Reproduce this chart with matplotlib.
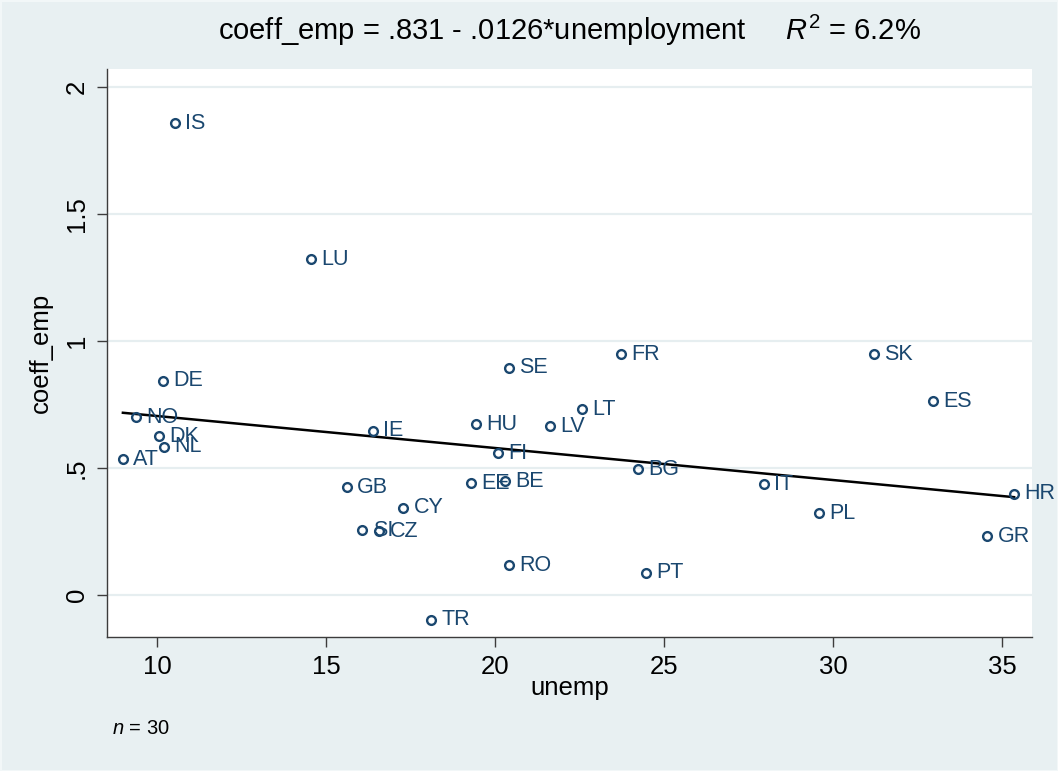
import matplotlib
matplotlib.use("Agg")
import matplotlib.pyplot as plt

plt.rcParams["font.family"] = ["Liberation Sans", "DejaVu Sans"]
plt.rcParams["mathtext.fontset"] = "custom"
plt.rcParams["mathtext.rm"] = "Liberation Sans"
plt.rcParams["mathtext.it"] = "Liberation Sans:italic"

# Country codes, unemployment and employment coefficient
countries = ["IS", "LU", "DE", "NO", "DK", "NL", "AT", "IE", "GB", "CY",
             "SI", "CZ", "TR", "EE", "BE", "HU", "FI", "LV", "LT", "SE",
             "FR", "RO", "PT", "BG", "IT", "PL", "SK", "ES", "GR", "HR"]
unemp = [10.53, 14.56, 10.18, 9.38, 10.06, 10.21, 8.99, 16.39, 15.62, 17.28,
         16.07, 16.57, 18.11, 19.29, 20.30, 19.44, 20.09, 21.63, 22.57, 20.41,
         23.73, 20.41, 24.47, 24.23, 27.96, 29.59, 31.21, 32.96, 34.56, 35.36]
coeff_emp = [1.858, 1.323, 0.843, 0.701, 0.626, 0.583, 0.535, 0.646, 0.425, 0.343,
             0.256, 0.252, -0.098, 0.441, 0.449, 0.673, 0.559, 0.665, 0.732, 0.894,
             0.949, 0.118, 0.087, 0.496, 0.437, 0.323, 0.949, 0.764, 0.232, 0.398]

# Fitted line coefficients
intercept = 0.831
slope = -0.0126
r2_pct = 6.2

xticks = [10, 15, 20, 25, 30, 35]
yticks = [0, 0.5, 1, 1.5, 2]
ytick_labels = ["0", ".5", "1", "1.5", "2"]

bg = "#E8F0F2"
grid_col = "#E6EEF0"
navy = "#1A476F"
axis_col = "#3C3C3C"

W, H = 1058, 771
fig = plt.figure(figsize=(W / 100, H / 100), dpi=100, facecolor=bg)
fig.patch.set_edgecolor("#F2F7F8")
fig.patch.set_linewidth(2)
ax = fig.add_axes([107 / W, (H - 637) / H, (1032 - 107) / W, (637 - 69) / H])
ax.set_facecolor("white")

ax.set_xlim(8.52, 35.89)
ax.set_ylim(-0.165, 2.071)

# horizontal grid
for y in yticks:
    ax.axhline(y, color=grid_col, lw=1.6, zorder=0)

# fitted line over observed range
x0, x1 = min(unemp), max(unemp)
ax.plot([x0, x1], [intercept + slope * x0, intercept + slope * x1],
        color="black", lw=1.8, zorder=2)

ax.plot(unemp, coeff_emp, linestyle="none", marker="o", markersize=6.3,
        markerfacecolor="none", markeredgecolor=navy, markeredgewidth=1.7,
        zorder=3)

for c, x, y in zip(countries, unemp, coeff_emp):
    ax.annotate(c, (x, y), xytext=(7.5, 0), textcoords="offset points",
                ha="left", va="center", fontsize=15.5, color=navy, zorder=4)

ax.set_xticks(xticks)
ax.set_xticklabels([str(t) for t in xticks])
ax.set_yticks(yticks)
ax.set_yticklabels(ytick_labels, rotation=90, va="center")

for s in ["top", "right"]:
    ax.spines[s].set_visible(False)
for s in ["left", "bottom"]:
    ax.spines[s].set_color(axis_col)
    ax.spines[s].set_linewidth(1.0)

ax.tick_params(axis="both", direction="out", length=7, width=1.0,
               color=axis_col, labelsize=18.5, labelcolor="black", pad=6)

ax.set_xlabel("unemp", fontsize=18.5, labelpad=-2)
ax.set_ylabel("coeff_emp", fontsize=18.5, labelpad=9)

title = ("coeff_emp = .831 - .0126*unemployment     "
         r"$\mathit{R}^2$ = " + f"{r2_pct}%")
ax.set_title(title, fontsize=21, pad=21)

fig.text(112 / W, 1 - 728 / H, r"$\mathit{n}$ = 30", fontsize=14.5,
         ha="left", va="center")

fig.savefig("out.png", dpi=100, facecolor=bg, edgecolor=fig.patch.get_edgecolor())
